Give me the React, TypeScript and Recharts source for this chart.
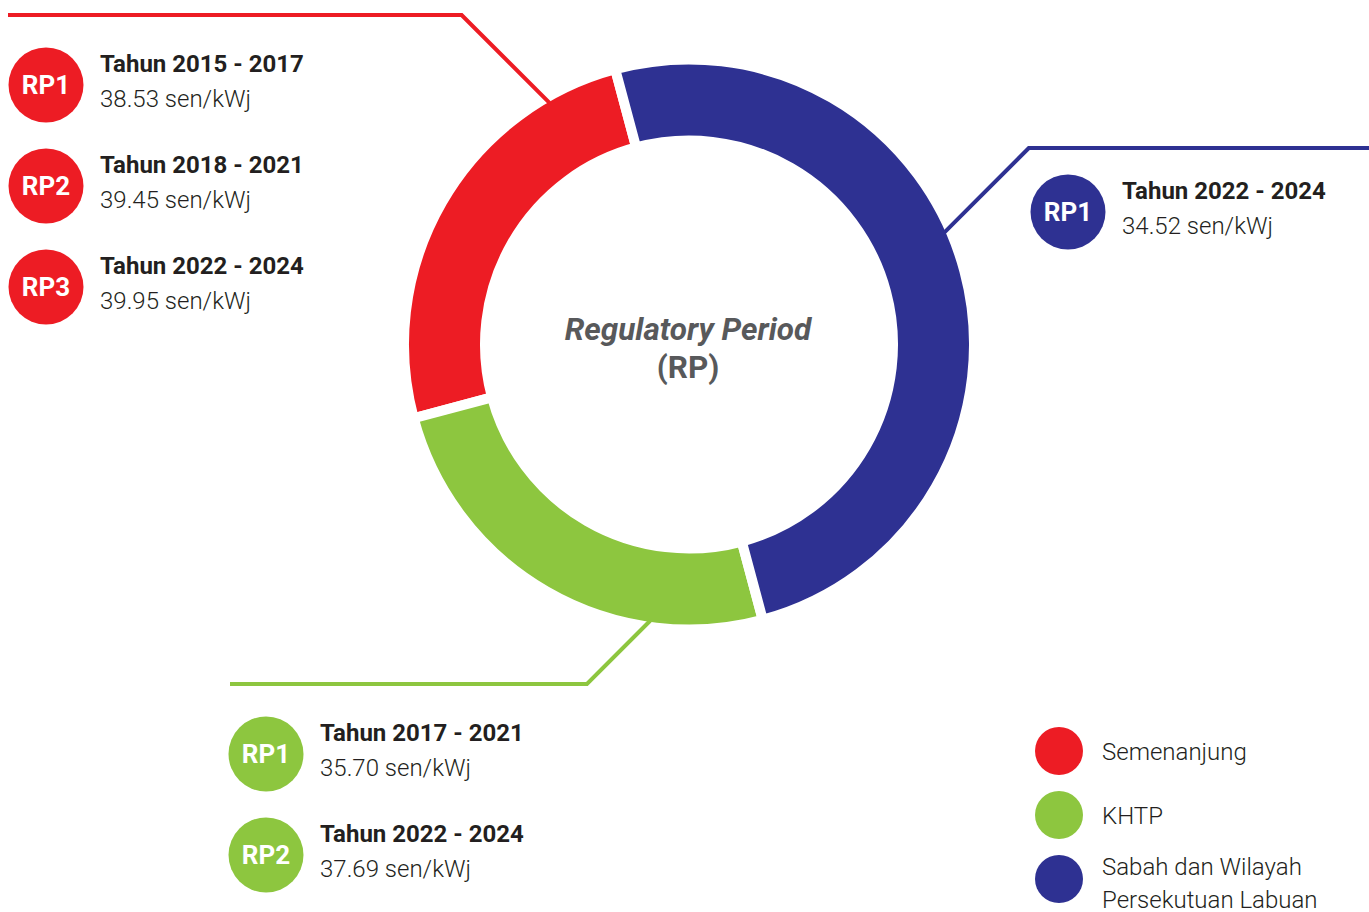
import React from 'react';
import { PieChart, Pie, Cell } from 'recharts';

// regions on the ring (share of the circle)
const REGIONS = ['Semenanjung', 'KHTP', 'Sabah dan Wilayah Persekutuan Labuan'];
const SHARES = [25, 25, 50];
const COLORS = ['#ED1C24', '#8DC63F', '#2E3192'];

// regulatory periods per region
const SEMENANJUNG_RP = ['RP1', 'RP2', 'RP3'];
const SEMENANJUNG_YEARS = ['Tahun 2015 - 2017', 'Tahun 2018 - 2021', 'Tahun 2022 - 2024'];
const SEMENANJUNG_RATES = [38.53, 39.45, 39.95];

const KHTP_RP = ['RP1', 'RP2'];
const KHTP_YEARS = ['Tahun 2017 - 2021', 'Tahun 2022 - 2024'];
const KHTP_RATES = [35.7, 37.69];

const SABAH_RP = ['RP1'];
const SABAH_YEARS = ['Tahun 2022 - 2024'];
const SABAH_RATES = [34.52];

const LEGEND_LINES = [['Semenanjung'], ['KHTP'], ['Sabah dan Wilayah', 'Persekutuan Labuan']];

const W = 1369;
const H = 912;
const CX = 689;
const CY = 344.5;
const GAP = 10;
const R_IN = 209;
const R_OUT = 280;

const FONT = 'Roboto, "Noto Sans", sans-serif';
const TEXT = '#231F20';

const polar = (r: number, deg: number) => {
  const a = (deg * Math.PI) / 180;
  return [CX + r * Math.cos(a), CY - r * Math.sin(a)];
};

// leader line: touches ring at angle, runs at 45deg to lineY, then horizontal to farX
const Leader = ({ angle, lineY, farX, color }: { angle: number; lineY: number; farX: number; color: string }) => {
  const [ex, ey] = polar(R_OUT - 1, angle);
  const dir = farX > ex ? 1 : -1;
  const elbowX = ex + dir * Math.abs(ey - lineY);
  return (
    <polyline
      points={`${farX},${lineY} ${elbowX},${lineY} ${ex},${ey}`}
      fill="none"
      stroke={color}
      strokeWidth={4}
    />
  );
};

const PeriodGroup = ({ x, ys, rp, years, rates, color }: any) => (
  <g>
    {ys.map((y: number, i: number) => (
      <g key={i}>
        <circle cx={x} cy={y} r={37.5} fill={color} />
        <text x={x} y={y + 9} textAnchor="middle" fill="#fff" fontSize={26} fontWeight={700} fontFamily={FONT}>
          {rp[i]}
        </text>
        <text x={x + 54} y={y - 13} fill={TEXT} fontSize={24} fontWeight={700} fontFamily={FONT}>
          {years[i]}
        </text>
        <text x={x + 54} y={y + 22} fill={TEXT} fontSize={24} fontWeight={300} fontFamily={FONT}>
          {`${rates[i].toFixed(2)} sen/kWj`}
        </text>
      </g>
    ))}
  </g>
);

export default function App() {
  const data = REGIONS.map((name, i) => ({ name, value: SHARES[i] }));

  return (
    <div style={{ position: 'fixed', left: 0, top: 0, width: W, height: H, background: '#fff' }}>
      <div style={{ position: 'absolute', left: 0, top: 0 }}>
        <PieChart width={W} height={H} margin={{ top: 0, right: 0, bottom: 0, left: 0 }}>
          <Pie
            data={data}
            dataKey="value"
            nameKey="name"
            cx={CX}
            cy={CY}
            innerRadius={R_IN - GAP / 2}
            outerRadius={R_OUT + GAP / 2}
            startAngle={105}
            endAngle={465}
            stroke="#fff"
            strokeWidth={GAP}
            isAnimationActive={false}
          >
            {data.map((d, i) => (
              <Cell key={d.name} fill={COLORS[i]} />
            ))}
          </Pie>
        </PieChart>
      </div>
      <svg width={W} height={H} style={{ position: 'absolute', left: 0, top: 0, pointerEvents: 'none' }}>
        <Leader angle={120} lineY={15} farX={8} color={COLORS[0]} />
        <Leader angle={23.7} lineY={148} farX={W} color={COLORS[2]} />
        <Leader angle={262} lineY={684} farX={230} color={COLORS[1]} />

        <text x={688} y={340} textAnchor="middle" fill="#58595B" fontSize={31.5} fontWeight={700} fontStyle="italic" fontFamily={FONT}>
          Regulatory Period
        </text>
        <text x={688} y={378} textAnchor="middle" fill="#58595B" fontSize={31.5} fontWeight={700} fontFamily={FONT}>
          (RP)
        </text>

        <PeriodGroup x={46} ys={[85, 186, 287]} rp={SEMENANJUNG_RP} years={SEMENANJUNG_YEARS} rates={SEMENANJUNG_RATES} color={COLORS[0]} />
        <PeriodGroup x={1068} ys={[212]} rp={SABAH_RP} years={SABAH_YEARS} rates={SABAH_RATES} color={COLORS[2]} />
        <PeriodGroup x={266} ys={[754, 855]} rp={KHTP_RP} years={KHTP_YEARS} rates={KHTP_RATES} color={COLORS[1]} />

        {LEGEND_LINES.map((lines, i) => (
          <g key={i}>
            <circle cx={1059} cy={751 + i * 64} r={24} fill={COLORS[i]} />
            {lines.map((t, j) => (
              <text
                key={j}
                x={1102}
                y={751 + i * 64 + (lines.length > 1 ? -4 : 9) + j * 33}
                fill={TEXT}
                fontSize={24}
                fontWeight={300}
                fontFamily={FONT}
              >
                {t}
              </text>
            ))}
          </g>
        ))}
      </svg>
    </div>
  );
}
